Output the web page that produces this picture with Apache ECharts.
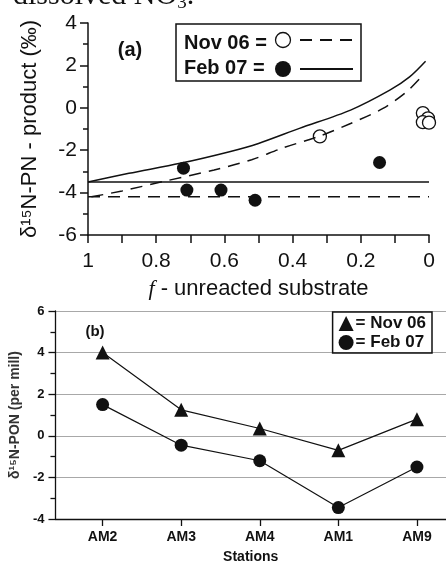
<!DOCTYPE html>
<html lang="en">
<head>
	<meta charset="UTF-8">
	<title>d15N product</title>
	<script src="https://cdn.jsdelivr.net/npm/echarts@6/dist/echarts.min.js"></script>
	<style>body{margin:0;background:#fff;}</style>
</head>
<body>
	<div id="chart" style="width: 446px; height: 565px;"></div>
	<script type="text/javascript">
		// panel (a): f - unreacted substrate vs d15N of product
		const nov06Points = [[0.32, -1.35], [0.018, -0.25], [0.003, -0.5], [0.018, -0.68], [0.0, -0.7]];
		const feb07Points = [[0.72, -2.85], [0.71, -3.88], [0.61, -3.88], [0.51, -4.36], [0.145, -2.58]];
		// model curves
		const feb07Curve = [[1.0, -3.5], [0.88, -3.09], [0.73, -2.62], [0.585, -2.07], [0.5, -1.68], [0.38, -0.97], [0.23, -0.11], [0.115, 0.83], [0.057, 1.46], [0.01, 2.2]];
		const nov06Curve = [[0.99, -4.2], [0.9, -3.92], [0.78, -3.48], [0.63, -2.93], [0.52, -2.45], [0.43, -1.9], [0.32, -1.33], [0.23, -0.74], [0.135, -0.03], [0.066, 0.75], [0.02, 1.5]];
		const feb07Base = -3.5;
		const nov06Base = -4.2;

		// panel (b): d15N-PON per station
		const stations = ['AM2', 'AM3', 'AM4', 'AM1', 'AM9'];
		const nov06Pon = [4.0, 1.25, 0.35, -0.7, 0.8];
		const feb07Pon = [1.5, -0.45, -1.2, -3.45, -1.5];

		const FONT = "'Liberation Sans', Arial, sans-serif";
		const INK = '#111';

		const chart = echarts.init(document.getElementById('chart'));

		chart.setOption({
			animation: false,
			textStyle: { fontFamily: FONT, color: INK },
			grid: [
				{ left: 88, right: 17, top: 23, bottom: 330 },
				{ left: 55, right: 0, top: 311, bottom: 45 }
			],
			legend: {
				right: 14, top: 312,
				orient: 'vertical',
				itemGap: 2,
				itemWidth: 15, itemHeight: 15,
				padding: [3, 6, 2, 6],
				borderColor: INK, borderWidth: 1.5,
				textStyle: { fontSize: 17, fontWeight: 'bold', color: INK, fontFamily: FONT, padding: [0, 0, 0, -3] },
				formatter: (n) => '= ' + n,
				data: [
					{ name: 'Nov 06', icon: 'triangle' },
					{ name: 'Feb 07', icon: 'circle' }
				]
			},
			xAxis: [
				{
					gridIndex: 0, type: 'value', inverse: true,
					min: 0, max: 1, interval: 0.1,
					axisLine: { onZero: false, lineStyle: { color: INK, width: 1.5 } },
					axisTick: { length: 8, lineStyle: { color: INK, width: 1.5 } },
					axisLabel: {
						fontSize: 21, color: INK, margin: 16,
						formatter: (v) => Math.round(v * 10) % 2 === 0 ? String(Math.round(v * 10) / 10) : ''
					},
					splitLine: { show: false },
					name: '{i|f}{t| - unreacted substrate}',
					nameLocation: 'middle', nameGap: 43,
					nameTextStyle: {
						rich: {
							i: { fontFamily: "'Liberation Serif', serif", fontStyle: 'italic', fontSize: 22, color: INK },
							t: { fontFamily: FONT, fontSize: 22, color: INK }
						}
					}
				},
				{
					gridIndex: 1, type: 'value',
					min: -0.6, max: 4.37,
					axisLine: { onZero: false, lineStyle: { color: INK, width: 1.3 } },
					axisTick: { length: 7, customValues: [0, 1, 2, 3, 4], lineStyle: { color: INK, width: 1.3 } },
					axisLabel: {
						customValues: [0, 1, 2, 3, 4],
						formatter: (v) => stations[v],
						fontSize: 14, fontWeight: 'bold', color: INK, margin: 11
					},
					splitLine: { show: false },
					name: 'Stations', nameLocation: 'middle', nameGap: 31,
					nameTextStyle: { fontSize: 14, fontWeight: 'bold', color: INK }
				}
			],
			yAxis: [
				{
					gridIndex: 0, type: 'value',
					min: -6, max: 4, interval: 2,
					axisLine: { show: true, onZero: false, lineStyle: { color: INK, width: 1.5 } },
					axisTick: { show: true, length: 8, lineStyle: { color: INK, width: 1.5 } },
					minorTick: { show: true, splitNumber: 2, length: 5, lineStyle: { color: INK, width: 1.5 } },
					axisLabel: { fontSize: 21, color: INK, margin: 11 },
					splitLine: { show: false },
					name: 'δ¹⁵N-PN - product (‰)',
					nameLocation: 'middle', nameGap: 47,
					nameTextStyle: { fontSize: 22, color: INK }
				},
				{
					gridIndex: 1, type: 'value',
					min: -4, max: 6, interval: 2,
					axisLine: { show: true, onZero: false, lineStyle: { color: INK, width: 1.3 } },
					axisTick: { show: true, length: 7, lineStyle: { color: INK, width: 1.3 } },
					minorTick: { show: true, splitNumber: 2, length: 5, lineStyle: { color: INK, width: 1.3 } },
					axisLabel: { fontSize: 13, fontWeight: 'bold', color: INK, margin: 11 },
					splitLine: { show: true, lineStyle: { color: '#a8a8a8', width: 1 } },
					name: 'δ¹⁵N-PON (per mill)',
					nameLocation: 'middle', nameGap: 31,
					nameTextStyle: { fontSize: 14, fontWeight: 'bold', color: '#333' }
				}
			],
			series: [
				{
					type: 'line', xAxisIndex: 0, yAxisIndex: 0, data: feb07Curve,
					showSymbol: false, smooth: 0.3, lineStyle: { color: INK, width: 1.5 }, silent: true
				},
				{
					type: 'line', xAxisIndex: 0, yAxisIndex: 0, data: nov06Curve,
					showSymbol: false, smooth: 0.3, lineStyle: { color: INK, width: 1.5, type: [12, 8] }, silent: true
				},
				{
					type: 'line', xAxisIndex: 0, yAxisIndex: 0, data: [[1, feb07Base], [0, feb07Base]],
					showSymbol: false, lineStyle: { color: INK, width: 1.5 }, silent: true
				},
				{
					type: 'line', xAxisIndex: 0, yAxisIndex: 0, data: [[1, nov06Base], [0, nov06Base]],
					showSymbol: false, lineStyle: { color: INK, width: 1.5, type: [12, 8] }, silent: true
				},
				{
					type: 'scatter', xAxisIndex: 0, yAxisIndex: 0, data: nov06Points,
					symbol: 'circle', symbolSize: 13,
					itemStyle: { color: '#fff', borderColor: INK, borderWidth: 1.3, opacity: 1 }
				},
				{
					type: 'scatter', xAxisIndex: 0, yAxisIndex: 0, data: feb07Points,
					symbol: 'circle', symbolSize: 13, itemStyle: { color: INK, opacity: 1 }
				},
				{
					name: 'Nov 06', type: 'line', xAxisIndex: 1, yAxisIndex: 1,
					data: nov06Pon.map((v, i) => [i, v]),
					symbol: 'triangle', symbolSize: 14,
					itemStyle: { color: INK }, lineStyle: { color: INK, width: 1.2 }
				},
				{
					name: 'Feb 07', type: 'line', xAxisIndex: 1, yAxisIndex: 1,
					data: feb07Pon.map((v, i) => [i, v]),
					symbol: 'circle', symbolSize: 13,
					itemStyle: { color: INK }, lineStyle: { color: INK, width: 1.2 }
				}
			],
			graphic: [
				// clipped caption line from the page above
				{
					type: 'text', left: 13, top: -19,
					style: {
						text: '{a|dissolved NO}{s|3}{a|.}',
						rich: {
							a: { fontFamily: "'Liberation Serif', serif", fontSize: 30, fill: INK },
							s: { fontFamily: "'Liberation Serif', serif", fontSize: 19, fill: INK, padding: [14, 0, 0, 0] }
						}
					}
				},
				{ type: 'text', x: 130, y: 50, style: { text: '(a)', font: "bold 20px " + FONT, fill: INK, align: 'center', verticalAlign: 'middle' } },
				{ type: 'text', x: 95, y: 332, style: { text: '(b)', font: "bold 15px " + FONT, fill: INK, align: 'center', verticalAlign: 'middle' } },
				// legend of panel (a)
				{ type: 'rect', shape: { x: 176, y: 24, width: 185, height: 57 }, style: { fill: '#fff', stroke: INK, lineWidth: 1.5 } },
				{ type: 'text', x: 184, y: 43, style: { text: 'Nov 06 =', font: "bold 20px " + FONT, fill: INK, verticalAlign: 'middle' } },
				{ type: 'text', x: 184, y: 68, style: { text: 'Feb 07 =', font: "bold 20px " + FONT, fill: INK, verticalAlign: 'middle' } },
				{ type: 'circle', shape: { cx: 283, cy: 40, r: 7.5 }, style: { fill: '#fff', stroke: INK, lineWidth: 1.3 } },
				{ type: 'circle', shape: { cx: 283, cy: 69, r: 8 }, style: { fill: INK } },
				{ type: 'line', shape: { x1: 300, y1: 40, x2: 353, y2: 40 }, style: { stroke: INK, lineWidth: 1.8, lineDash: [12, 8] } },
				{ type: 'line', shape: { x1: 300, y1: 69, x2: 353, y2: 69 }, style: { stroke: INK, lineWidth: 1.8 } }
			]
		});
	</script>
</body>
</html>
